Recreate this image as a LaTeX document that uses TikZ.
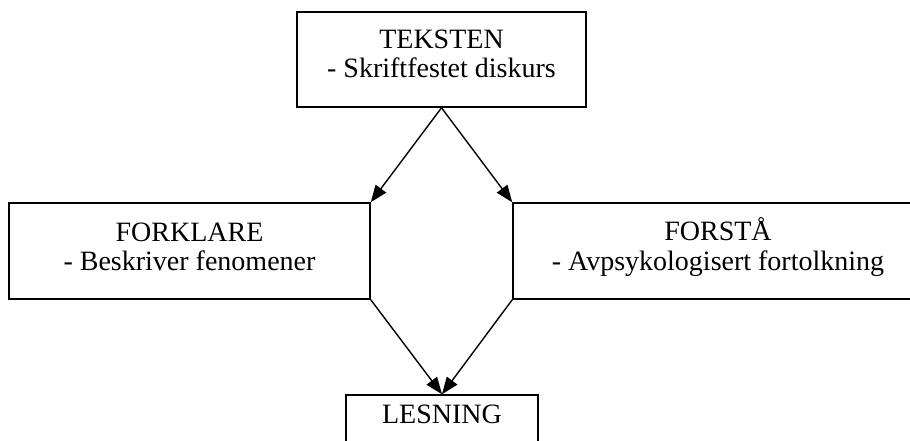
\documentclass[tikz,border=0pt]{standalone}
\usepackage{fontspec}
\setmainfont{Liberation Serif}
\usetikzlibrary{positioning, arrows.meta}

\begin{document}
\begin{tikzpicture}[x=1pt, y=-1pt,
  box/.style={draw=black, line width=1.5pt, align=center, inner sep=0pt,
    font=\fontsize{28}{29.5}\selectfont},
  pil/.style={line width=1.4pt, -{Triangle[length=17pt, width=13pt]}}]
  % picture frame
  \useasboundingbox (0,0) rectangle (910,441);
  \clip (0,0) rectangle (910,441);

  % boxes
  \node[box, minimum width=289pt, minimum height=95pt, text depth=12pt] (tekst)
    at (441.5,59.5) {TEKSTEN\\- Skriftfestet diskurs};
  \node[box, minimum width=361pt, minimum height=96pt, text depth=9pt] (forklare)
    at (189.5,251) {FORKLARE\\- Beskriver fenomener};
  \node[box, minimum width=410pt, minimum height=96pt, text depth=14pt] (forsta)
    at (718,251) {FORSTÅ\\- Avpsykologisert fortolkning};
  \node[box, minimum width=192pt, minimum height=80pt] (lesning)
    at (442,435) {\raisebox{21pt}[19pt][0pt]{LESNING}};

  % arrows
  \draw[pil] (tekst.south) -- (forklare.north east);
  \draw[pil] (tekst.south) -- (forsta.north west);
  \draw[pil] (forklare.south east) -- (lesning.north);
  \draw[pil] (forsta.south west) -- (lesning.north);
\end{tikzpicture}
\end{document}
